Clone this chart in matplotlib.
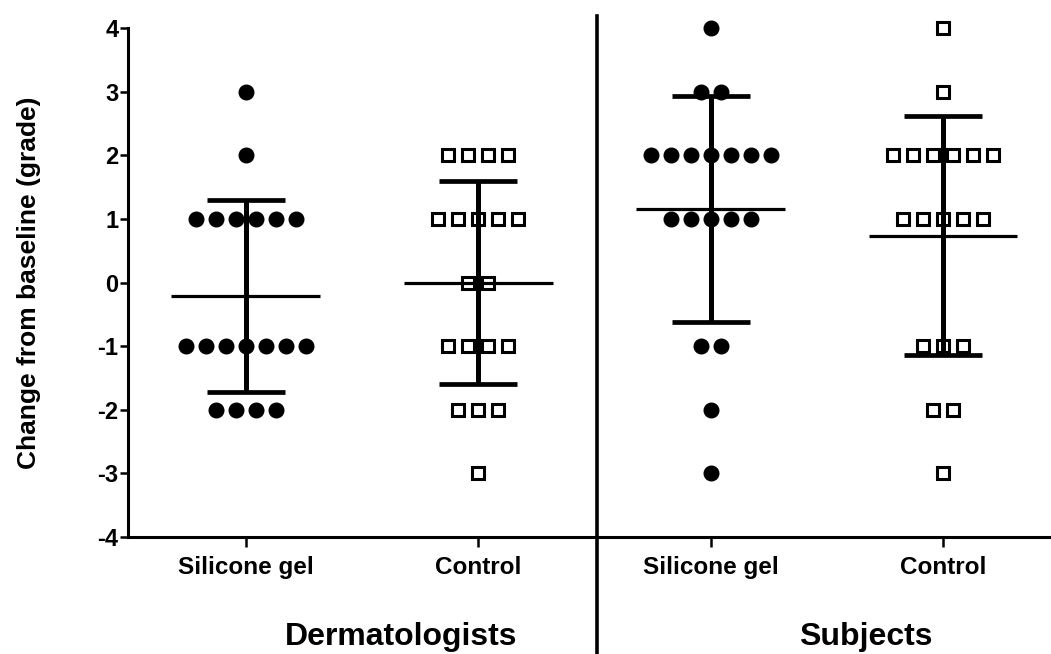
import numpy as np
import matplotlib
matplotlib.use("Agg")
import matplotlib.pyplot as plt
import matplotlib.transforms as mtransforms

plt.rcParams['font.family'] = ['Liberation Sans', 'DejaVu Sans']
plt.rcParams['font.weight'] = 'bold'

# --------------------------
# Data (grade change per participant)
# --------------------------
derm_silicone = [3] + [2] + [1] * 6 + [-1] * 7 + [-2] * 4
derm_control = [2] * 4 + [1] * 5 + [0] * 2 + [-1] * 4 + [-2] * 3 + [-3]
subj_silicone = [4] + [3] * 2 + [2] * 7 + [1] * 5 + [-1] * 2 + [-2] + [-3]
subj_control = [4] + [3] + [2] * 6 + [1] * 5 + [-1] * 3 + [-2] * 2 + [-3]

groups = [derm_silicone, derm_control, subj_silicone, subj_control]
markers = ['o', 's', 'o', 's']
tick_labels = ['Silicone gel', 'Control', 'Silicone gel', 'Control']
panel_labels = ['Dermatologists', 'Subjects']
yticks = [-4, -3, -2, -1, 0, 1, 2, 3, 4]

# --------------------------
# Figure
# --------------------------
fig = plt.figure(figsize=(10.51, 6.54), dpi=100)
ax = fig.add_axes([128 / 1051, 117 / 654, 923 / 1051, 509 / 654])

spacing = 0.086   # horizontal gap between points on the same row


def swarm_x(values, center):
    values = np.asarray(values, dtype=float)
    xs = np.zeros_like(values)
    for v in np.unique(values):
        idx = np.where(values == v)[0]
        n = len(idx)
        xs[idx] = center + (np.arange(n) - (n - 1) / 2) * spacing
    return xs


for i, (vals, mk) in enumerate(zip(groups, markers)):
    vals = np.asarray(vals, dtype=float)
    m = vals.mean()
    sd = vals.std(ddof=1)

    # mean line
    ax.hlines(m, i - 0.32, i + 0.32, color='black', lw=2.3, zorder=2)
    # SD bar with caps
    ax.vlines(i, m - sd, m + sd, color='black', lw=3.6, zorder=2)
    ax.hlines([m - sd, m + sd], i - 0.168, i + 0.168, color='black', lw=3.4, zorder=2)

    xs = swarm_x(vals, i)
    if mk == 'o':
        ax.plot(xs, vals, 'o', ms=10.5, color='black', zorder=3, clip_on=False)
    else:
        ax.plot(xs, vals, 's', ms=9.3, mfc='none', mec='black', mew=2.2,
                zorder=3, clip_on=False)

ax.set_xlim(-0.507, 3.465)
ax.set_ylim(-4, 4)
ax.set_yticks(yticks)
ax.set_yticklabels([str(t) for t in yticks], fontsize=17, fontweight='bold')
ax.set_xticks(range(4))
ax.set_xticklabels(tick_labels, fontsize=17.5, fontweight='bold')

for side in ('top', 'right'):
    ax.spines[side].set_visible(False)
for side in ('left', 'bottom'):
    ax.spines[side].set_linewidth(2.2)
ax.tick_params(axis='y', length=6, width=1.8, pad=1)
ax.tick_params(axis='x', length=7, width=1.8, pad=7)

ax.set_ylabel('Change from baseline (grade)', fontsize=19, fontweight='bold')
ax.yaxis.set_label_coords(-0.094, 0.5)

# divider between the two panels
ax.axvline(1.511, ymin=-0.24, ymax=1.0236, color='black', lw=2.6, clip_on=False)

# panel labels
trans = mtransforms.blended_transform_factory(ax.transData, fig.transFigure)
for x, lab in zip([0.67, 2.67], panel_labels):
    ax.text(x, 17 / 654, lab, transform=trans, ha='center', va='center',
            fontsize=23, fontweight='bold')

fig.savefig('out.png', dpi=100)
